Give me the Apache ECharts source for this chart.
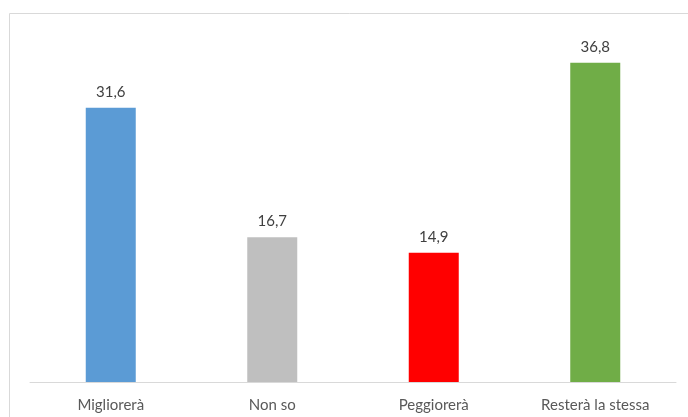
<!DOCTYPE html>
<html>
<head>
<meta charset="utf-8">
<script src="https://cdn.jsdelivr.net/npm/echarts@6/dist/echarts.min.js"></script>
<style>
  html, body { margin: 0; padding: 0; background: #fff; }
  #main { width: 688px; height: 417px; }
</style>
</head>
<body>
<div id="main"></div>
<script>
// dati
var categorie = ["Migliorerà", "Non so", "Peggiorerà", "Resterà la stessa"]
var valori = [31.6, 16.7, 14.9, 36.8]
var colori = ["#5b9bd5", "#bfbfbf", "#ff0000", "#70ad47"]

var myChart = echarts.init(document.getElementById('main'))

var option = {
  animation: false,
  textStyle: { fontFamily: 'Lato' },
  graphic: [
    {
      type: 'rect',
      shape: { x: 9.5, y: 13.5, width: 720, height: 440 },
      style: { fill: 'none', stroke: '#d9d9d9', lineWidth: 1 },
      silent: true
    }
  ],
  grid: { left: 30, right: 12, top: 35, bottom: 35 },
  xAxis: {
    type: 'category',
    data: categorie,
    axisTick: { show: false },
    axisLine: { lineStyle: { color: '#d9d9d9', width: 1 } },
    axisLabel: { color: '#595959', fontSize: 15, margin: 16, fontFamily: 'Lato' }
  },
  yAxis: {
    type: 'value',
    min: 0,
    max: 40,
    show: false,
    splitLine: { show: false }
  },
  series: [
    {
      type: 'bar',
      barWidth: 50,
      data: valori.map(function (v, i) {
        return { value: v, itemStyle: { color: colori[i] } }
      }),
      label: {
        show: true,
        position: 'top',
        distance: 8,
        color: '#404040',
        fontSize: 15,
        fontFamily: 'Lato',
        formatter: function (p) { return String(p.value).replace('.', ',') }
      }
    }
  ]
}
myChart.setOption(option)
</script>
</body>
</html>
